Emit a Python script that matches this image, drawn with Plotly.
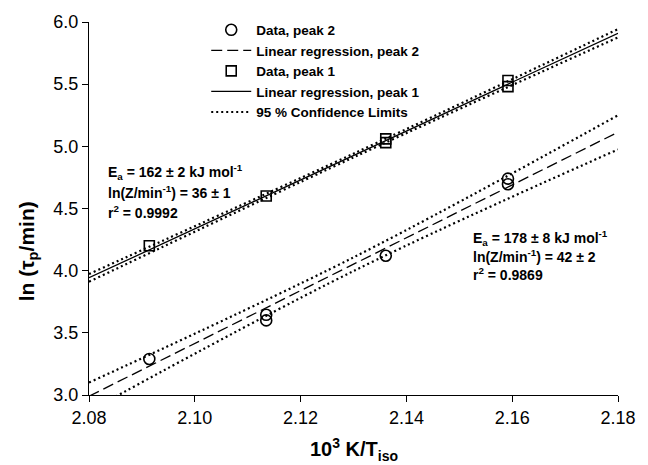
import plotly.graph_objects as go

# ---- data ----
sq_x = [2.0914, 2.1135, 2.1361, 2.1361, 2.1592, 2.1592]   # peak 1 (squares)
sq_y = [4.20, 4.60, 5.06, 5.03, 5.53, 5.48]
ci_x = [2.0914, 2.1135, 2.1135, 2.1361, 2.1592, 2.1592]   # peak 2 (circles)
ci_y = [3.29, 3.645, 3.60, 4.12, 4.74, 4.695]

fit_x = [2.08, 2.13, 2.18]
reg1_y = [3.943, 4.926, 5.909]
ci1_hi = [3.973, 4.941, 5.943]
ci1_lo = [3.911, 4.911, 5.876]
reg2_y = [2.99, 4.052, 5.114]
ci2_hi = [3.10, 4.107, 5.25]
ci2_lo = [2.87, 3.997, 4.975]

x_ticks = [2.08, 2.10, 2.12, 2.14, 2.16, 2.18]
y_ticks = [3.0, 3.5, 4.0, 4.5, 5.0, 5.5, 6.0]

FONT = "Liberation Sans, Arial, Helvetica, sans-serif"

fig = go.Figure()
fig.add_trace(go.Scatter(x=ci_x, y=ci_y, mode="markers", name="<b>Data, peak 2</b>",
                         marker=dict(symbol="circle-open", size=11, color="black", line=dict(width=1.6))))
fig.add_trace(go.Scatter(x=fit_x, y=reg2_y, mode="lines", name="<b>Linear regression, peak 2</b>",
                         line=dict(color="black", width=1.3, dash="11px,5px")))
fig.add_trace(go.Scatter(x=sq_x, y=sq_y, mode="markers", name="<b>Data, peak 1</b>",
                         marker=dict(symbol="square-open", size=10, color="black", line=dict(width=1.6))))
fig.add_trace(go.Scatter(x=fit_x, y=reg1_y, mode="lines", name="<b>Linear regression, peak 1</b>",
                         line=dict(color="black", width=1.3)))
dot = dict(color="black", width=2.2, dash="2px,3px", shape="spline")
fig.add_trace(go.Scatter(x=fit_x, y=ci2_hi, mode="lines", name="<b>95 % Confidence Limits</b>", line=dot))
fig.add_trace(go.Scatter(x=fit_x, y=ci2_lo, mode="lines", showlegend=False, line=dot))
fig.add_trace(go.Scatter(x=fit_x, y=ci1_hi, mode="lines", showlegend=False, line=dot))
fig.add_trace(go.Scatter(x=fit_x, y=ci1_lo, mode="lines", showlegend=False, line=dot))

ann_font = dict(family=FONT, size=14, color="black")
ann = [
    (0.0317, 0.597, "<b>E<sub>a</sub> = 162 ± 2 kJ mol<sup>-1</sup></b>"),
    (0.0317, 0.544, "<b>ln(Z/min<sup>-1</sup>) = 36 ± 1</b>"),
    (0.0317, 0.491, "<b>r<sup>2</sup> = 0.9992</b>"),
    (0.7225, 0.421, "<b>E<sub>a</sub> = 178 ± 8 kJ mol<sup>-1</sup></b>"),
    (0.7225, 0.373, "<b>ln(Z/min<sup>-1</sup>) = 42 ± 2</b>"),
    (0.7225, 0.325, "<b>r<sup>2</sup> = 0.9869</b>"),
]
for ax_, ay_, t in ann:
    fig.add_annotation(x=ax_, y=ay_, xref="paper", yref="paper", text=t, showarrow=False,
                       xanchor="left", yanchor="middle", font=ann_font)

# axis titles
fig.add_annotation(x=0.5, y=-0.145, xref="paper", yref="paper", showarrow=False,
                   text="<b>10<sup>3</sup> K/T<sub>iso</sub></b>", xanchor="center", yanchor="middle",
                   font=dict(family=FONT, size=20, color="black"))
fig.add_annotation(x=-0.1155, y=0.385, xref="paper", yref="paper", showarrow=False, textangle=-90,
                   text="<b>ln (τ<sub>p</sub>/min)</b>", xanchor="center", yanchor="middle",
                   font=dict(family=FONT, size=21, color="black"))

axis_common = dict(showline=True, linecolor="black", linewidth=1, ticks="outside", ticklen=6,
                   tickcolor="black", tickwidth=1, showgrid=False, zeroline=False, mirror=False,
                   tickfont=dict(family=FONT, size=18, color="black"))
fig.update_xaxes(range=[2.08, 2.18], tickvals=x_ticks, ticktext=[f"{v:.2f}" for v in x_ticks],
                 **axis_common)
fig.update_yaxes(range=[3.0, 6.0], tickvals=y_ticks, ticktext=[f"{v:.1f}" for v in y_ticks],
                 **axis_common)

fig.update_layout(
    width=648, height=465,
    margin=dict(l=89, r=22, t=18, b=70),
    paper_bgcolor="white", plot_bgcolor="white",
    showlegend=True,
    legend=dict(x=0.2216, y=1.02, xanchor="left", yanchor="top", bgcolor="rgba(0,0,0,0)",
                font=dict(family=FONT, size=13.5, color="black"), tracegroupgap=0,
                itemwidth=40),
)
fig.write_html("out.html")
